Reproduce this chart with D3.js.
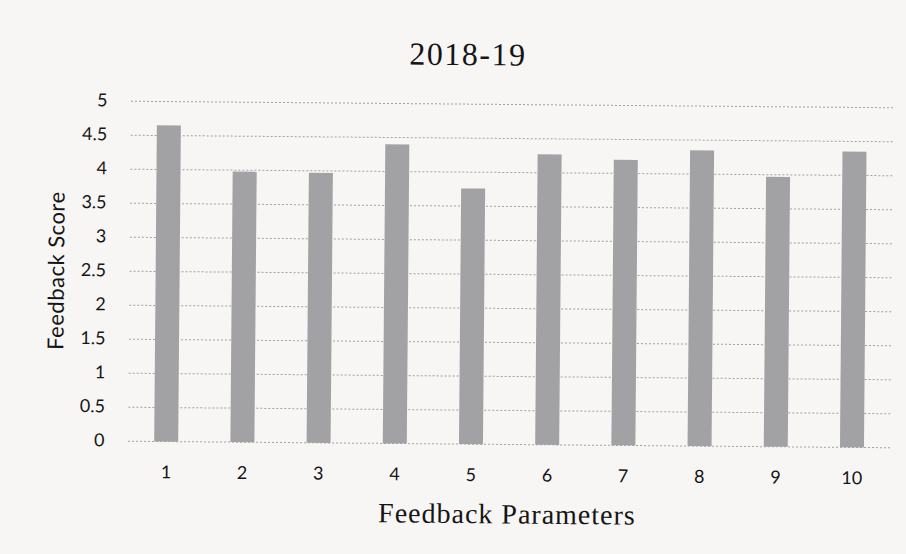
<!DOCTYPE html>
<html><head><meta charset="utf-8">
<script src="https://cdn.jsdelivr.net/npm/d3@7"></script>
<style>html,body{margin:0;padding:0;background:#f7f6f4;}</style>
</head><body>
<svg id="chart" width="906" height="554"></svg>
<script>
const categories = ["1","2","3","4","5","6","7","8","9","10"];
const scores = [4.65, 3.98, 3.97, 4.4, 3.76, 4.27, 4.2, 4.35, 3.97, 4.35];
const yTicks = [0,0.5,1,1.5,2,2.5,3,3.5,4,4.5,5];
const title = "2018-19";
const xTitle = "Feedback Parameters";
const yTitle = "Feedback Score";

const svg = d3.select("#chart");
svg.append("rect").attr("width",906).attr("height",554).attr("fill","#f7f6f4");
// slight scan tilt
const g = svg.append("g").attr("transform","rotate(0.49,453,277)");
const m = {left:129.5, right:891.5, top:104, bottom:444};
const x = d3.scaleBand().domain(categories).range([m.left, m.right]).paddingInner(0.685).paddingOuter(0.3425);
const y = d3.scaleLinear().domain([0,5]).range([m.bottom, m.top]);

// gridlines
g.append("g").selectAll("line").data(yTicks).join("line")
  .attr("x1", m.left).attr("x2", m.right)
  .attr("y1", d=>y(d)).attr("y2", d=>y(d))
  .attr("stroke","#a0a0a0").attr("stroke-width",1)
  .attr("stroke-dasharray","2,2");

const tickFont = "Lato, 'Open Sans', sans-serif";
// y axis
const yAxis = d3.axisLeft(y).tickValues(yTicks).tickSize(0).tickPadding(0).tickFormat(d=>String(d));
const gy = g.append("g").attr("transform",`translate(106,-1)`).call(yAxis);
gy.select(".domain").remove();
gy.selectAll("text").attr("font-family",tickFont).attr("font-size",18).attr("fill","#151515");

// bars
g.append("g").selectAll("rect").data(scores).join("rect")
  .attr("x",(d,i)=>x(categories[i]))
  .attr("width",x.bandwidth())
  .attr("y",d=>y(d))
  .attr("height",d=>y(0)-y(d))
  .attr("fill","#a2a2a5");

// x axis
const xAxis = d3.axisBottom(x).tickSize(0).tickPadding(0);
const gx = g.append("g").attr("transform",`translate(0,${m.bottom+24})`).call(xAxis);
gx.select(".domain").remove();
gx.selectAll("text").attr("font-family",tickFont).attr("font-size",18).attr("fill","#151515");

// titles
g.append("text").attr("x",466).attr("y",65).attr("text-anchor","middle")
  .attr("font-family","'Liberation Serif', serif").attr("font-size",32).attr("letter-spacing",1.5)
  .attr("fill","#151515").text(title);
g.append("text").attr("x",509).attr("y",523).attr("text-anchor","middle")
  .attr("font-family","'Liberation Serif', serif").attr("font-size",28).attr("letter-spacing",1)
  .attr("fill","#151515").text(xTitle);
g.append("text").attr("transform","translate(64,274) rotate(-90)").attr("text-anchor","middle")
  .attr("font-family",tickFont).attr("font-size",22).attr("letter-spacing",0.5)
  .attr("fill","#151515").text(yTitle);
</script>
</body></html>
